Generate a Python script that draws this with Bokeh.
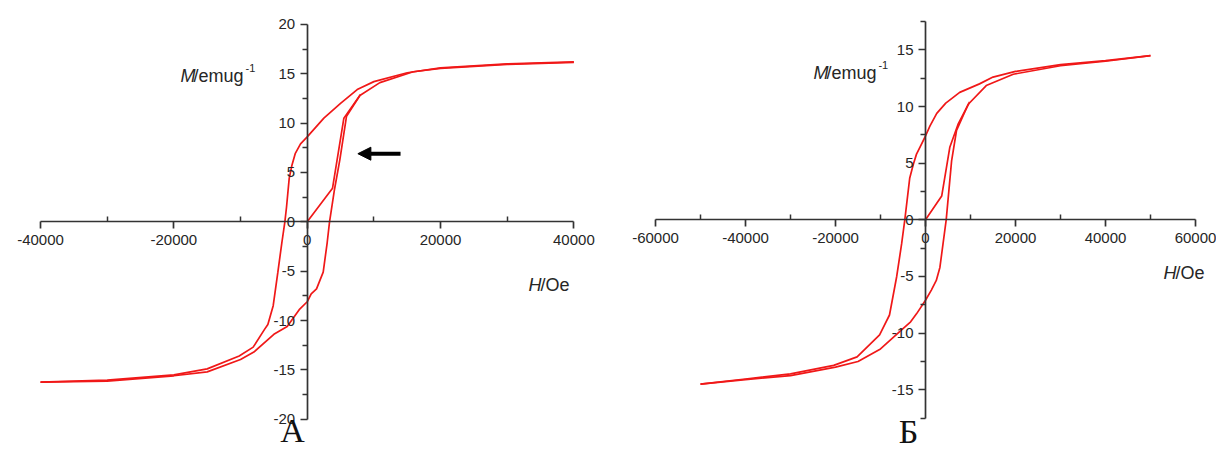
from bokeh.plotting import figure
from bokeh.layouts import row
from bokeh.models import (Range1d, FixedTicker, Label, Arrow, NormalHead,
                          CustomJSTickFormatter)
from bokeh.embed import file_html
from bokeh.resources import INLINE

# ---------------- data : panel A ----------------
a_desc_h = [40000, 30000, 20000, 15000, 10000, 7500, 5000, 2500, 0, -1000, -1800, -2300,
            -2700, -3100, -3350, -3800, -4400, -5100, -5900, -6400, -8100, -10200, -15000,
            -20000, -30000, -40000]
a_desc_m = [16.2, 16.0, 15.6, 15.1, 14.2, 13.4, 12.0, 10.5, 8.6, 7.9, 6.9, 5.7,
            4.4, 1.5, 0.0, -2.1, -5.1, -8.5, -10.4, -10.9, -12.7, -13.6, -14.9,
            -15.5, -16.05, -16.25]
a_asc_h = [-40000, -30000, -20000, -15000, -10000, -8000, -5000, -3000, -1200, 0, 600,
           1400, 2100, 2400, 3000, 3350, 4100, 4900, 5900, 7900, 10900, 15900, 20000,
           30000, 40000]
a_asc_m = [-16.25, -16.15, -15.6, -15.2, -13.95, -13.2, -11.4, -10.6, -8.9, -8.1, -7.3,
           -6.8, -5.6, -5.1, -2.1, 0.0, 3.3, 6.3, 10.7, 12.8, 14.1, 15.2, 15.55,
           15.95, 16.15]
a_init_h = [0, 3800, 5500, 8000]
a_init_m = [0.0, 3.4, 10.5, 12.9]
a_xticks = [-40000, -20000, 0, 20000, 40000]
a_xminor = [-30000, -10000, 10000, 30000]
a_yticks = [-20, -15, -10, -5, 0, 5, 10, 15, 20]
a_yminor = [-17.5, -12.5, -7.5, -2.5, 2.5, 7.5, 12.5, 17.5]

# ---------------- data : panel B ----------------
b_desc_h = [50000, 40000, 30000, 20000, 15000, 12000, 7600, 4500, 2500, 1000, 0, -1000,
            -2000, -2700, -3500, -4600, -5300, -6400, -8000, -10200, -15200, -20400,
            -30000, -40000, -50000]
b_desc_m = [14.5, 14.05, 13.7, 13.1, 12.6, 12.0, 11.25, 10.3, 9.4, 8.3, 7.4, 6.6,
            5.8, 4.9, 3.7, 0.0, -2.1, -5.0, -8.4, -10.15, -12.1, -12.85,
            -13.6, -14.05, -14.5]
b_asc_h = [-50000, -40000, -30000, -20000, -15000, -10000, -5000, -3300, -2000, 0, 1300,
           2400, 3200, 3900, 4600, 5800, 6900, 9500, 13500, 19500, 30000, 40000, 50000]
b_asc_m = [-14.5, -14.1, -13.75, -13.0, -12.5, -11.4, -9.6, -9.0, -8.3, -7.1, -6.2,
           -5.35, -4.2, -2.1, 0.0, 5.2, 7.9, 10.2, 11.85, 12.85, 13.6, 14.0, 14.5]
b_init_h = [0, 3600, 5400, 7300, 9800]
b_init_m = [0.0, 2.1, 6.4, 8.5, 10.4]
b_xticks = [-60000, -40000, -20000, 0, 20000, 40000, 60000]
b_xminor = [-50000, -30000, -10000, 10000, 30000, 50000]
b_yticks = [-15, -10, -5, 0, 5, 10, 15]
b_yminor = [-17.5, -12.5, -7.5, -2.5, 2.5, 7.5, 12.5, 17.5]

RED = "#f01818"
AX = "#333333"
FIG_H = 450


def make_panel(width, xr, yr, xb, yb, xt, xm, yt, ym, curves):
    p = figure(width=width, height=FIG_H, x_range=Range1d(*xr), y_range=Range1d(*yr),
               output_backend="svg", toolbar_location=None, min_border=0,
               outline_line_color=None)
    p.grid.visible = False
    for hs, ms in curves:
        p.line(hs, ms, line_color=RED, line_width=1.7)
    p.xaxis.fixed_location = 0
    p.yaxis.fixed_location = 0
    p.xaxis.ticker = FixedTicker(ticks=xt, minor_ticks=xm)
    p.yaxis.ticker = FixedTicker(ticks=yt, minor_ticks=ym)
    p.xaxis.bounds = xb
    p.yaxis.bounds = yb
    for ax in (p.xaxis, p.yaxis):
        ax.formatter = CustomJSTickFormatter(code="return tick.toString();")
        ax.axis_line_color = AX
        ax.axis_line_width = 1.7
        ax.major_tick_line_color = AX
        ax.minor_tick_line_color = AX
        ax.major_tick_line_width = 1.7
        ax.minor_tick_line_width = 1.5
        ax.major_label_text_font = "Liberation Sans"
        ax.major_label_text_font_size = "15px"
        ax.major_label_text_color = "#262626"
    p.xaxis.major_tick_out = 7
    p.xaxis.major_tick_in = 0
    p.xaxis.minor_tick_out = 0
    p.xaxis.minor_tick_in = 5
    p.xaxis.major_label_standoff = 6
    p.yaxis.major_tick_out = 7
    p.yaxis.major_tick_in = 0
    p.yaxis.minor_tick_out = 5
    p.yaxis.minor_tick_in = 0
    p.yaxis.major_label_standoff = 5
    return p


def add_label(p, x, y, parts):
    for txt, dx, dy, size, style in parts:
        p.add_layout(Label(x=x, y=y, text=txt, x_offset=dx, y_offset=dy,
                           text_font="Liberation Sans", text_font_size=size,
                           text_font_style=style, text_color="#262626",
                           text_align="left", text_baseline="middle"))


pa = make_panel(606, (-46003, 44893), (-23.17, 22.42), (-40000, 40000), (-20, 20),
                a_xticks, a_xminor, a_yticks, a_yminor,
                [(a_desc_h, a_desc_m), (a_asc_h, a_asc_m), (a_init_h, a_init_m)])
pb = make_panel(610, (-70889, 64667), (-20.36, 19.36), (-60000, 60000), (-17.5, 17.5),
                b_xticks, b_xminor, b_yticks, b_yminor,
                [(b_desc_h, b_desc_m), (b_asc_h, b_asc_m), (b_init_h, b_init_m)])

M_PARTS = [("M", 0, 0, "18px", "italic"), ("/emug", 13, 0, "18px", "normal"),
           ("-1", 65, 8, "11px", "normal")]
H_PARTS = [("H", 0, 0, "18px", "italic"), ("/Oe", 12, 0, "18px", "normal")]

add_label(pa, -19000, 14.8, M_PARTS)
add_label(pa, 33200, -6.45, H_PARTS)
add_label(pb, -24900, 13.0, M_PARTS)
add_label(pb, 52900, -4.65, H_PARTS)

pa.add_layout(Label(x=-2200, y=-23.05, text="А", text_font="Liberation Serif",
                    text_font_size="34px", text_align="center",
                    text_baseline="bottom", text_color="#111111"))
pb.add_layout(Label(x=-3800, y=-20.28, text="Б", text_font="Liberation Serif",
                    text_font_size="34px", text_align="center",
                    text_baseline="bottom", text_color="#111111"))

pa.add_layout(Arrow(end=NormalHead(size=13, fill_color="black", line_color="black"),
                    x_start=14000, y_start=6.9, x_end=7600, y_end=6.9,
                    line_width=4, line_color="black"))

layout = row(pa, pb)
open("out.html", "w").write(file_html(layout, INLINE))
